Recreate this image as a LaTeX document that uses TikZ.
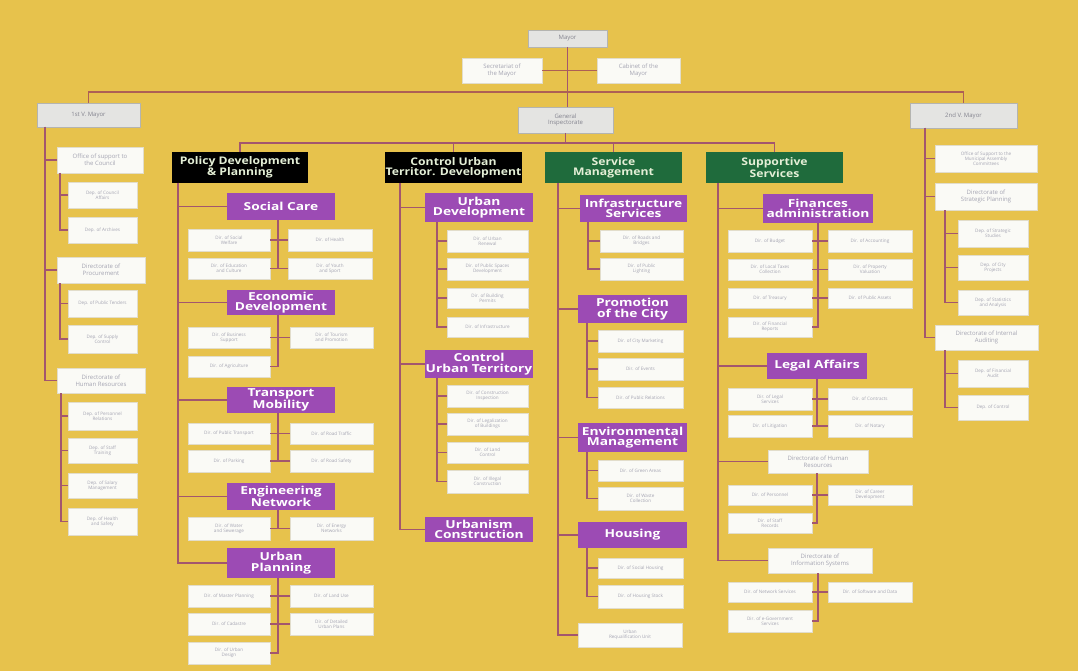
\documentclass[tikz,border=0pt]{standalone}
\usepackage{fontspec}
\setmainfont{Open Sans}
\setsansfont{Open Sans}
\newfontfamily\unitfont[FakeStretch=1.25]{Open Sans}
\newfontfamily\deptfont[FakeStretch=1.16]{Open Sans}
\begin{document}
\definecolor{bgc}{HTML}{E7C24C}
\definecolor{lnc}{HTML}{A3566E}
\definecolor{busc}{HTML}{AD5F55}
\definecolor{purp}{HTML}{9C4BB4}
\definecolor{grn}{HTML}{1F6B3C}
\definecolor{hdtxt}{HTML}{E4EFD6}
\definecolor{wfill}{HTML}{FAFAF6}
\definecolor{wline}{HTML}{E2DDCB}
\definecolor{gfill}{HTML}{E4E4E2}
\definecolor{gline}{HTML}{B4B4B0}
\definecolor{stxt}{HTML}{A4A4B2}
% box from its top-left corner (x1,y1) to its bottom-right corner (x2,y2)
\newcommand\bx[7]{%
  \pgfmathsetmacro\bxw{#5-#3}\pgfmathsetmacro\bxh{#6-#4}%
  \node[#1,minimum width=\bxw pt,minimum height=\bxh pt,anchor=north west] (#2) at (#3,#4) {#7};}
\begin{tikzpicture}[x=1pt,y=-1pt,
  every node/.style={inner sep=0pt,outer sep=0pt,align=center},
  ln/.style={draw=lnc,line width=1.8pt},
  pbox/.style={fill=purp,text=white,font=\unitfont\bfseries\fontsize{11}{10.5}\selectfont},
  kbox/.style={fill=black,text=hdtxt,font=\deptfont\bfseries\fontsize{10.5}{10}\selectfont},
  gbox/.style={fill=grn,text=hdtxt,font=\deptfont\bfseries\fontsize{10.5}{10}\selectfont},
  wbox/.style={fill=wfill,draw=wline,line width=0.6pt,text=stxt,font=\fontsize{4.6}{5.2}\selectfont},
  dbox/.style={fill=wfill,draw=wline,line width=0.6pt,text=stxt,font=\fontsize{6}{6.6}\selectfont},
  mbox/.style={fill=gfill,draw=gline,line width=0.8pt,text=stxt!80!black,font=\fontsize{6}{6.6}\selectfont}]
\useasboundingbox (0,0) rectangle (1078,671);
\fill[bgc] (0,0) rectangle (1078,671);

% ---- top management ----
\bx{mbox}{mayor}{528}{30}{607}{47}{Mayor}
\bx{dbox}{sec}{462}{58}{542}{83}{Secretariat of\\the Mayor}
\bx{dbox}{cab}{597}{58}{680}{83}{Cabinet of the\\Mayor}
\bx{mbox}{vma}{37}{103}{140}{127}{1st V. Mayor}
\bx{mbox}{vmb}{910}{103}{1017}{128}{2nd V. Mayor}
\bx{mbox}{gi}{518}{107}{613}{133}{General\\Inspectorate}
\coordinate (bus) at (567,92);
\coordinate (hbus) at (566,143);
\draw[ln,draw=busc] (sec.east) -- (cab.west);
\draw[ln] (mayor.south) -- (mayor.south |- gi.north);
\draw[ln,draw=busc] (vma.north) |- (bus) -| (vmb.north);
\draw[ln] (gi.south) -- (gi.south |- hbus);

% ---- four departments ----
\bx{kbox}{pol}{172}{152}{308}{183}{Policy Development\\\& Planning}
\bx{kbox}{ctl}{385}{152}{522}{183}{Control Urban\\Territor. Development}
\bx{gbox}{svc}{545}{152}{682}{183}{Service\\Management}
\bx{gbox}{sup}{706}{152}{843}{183}{Supportive\\Services}
\draw[ln] (pol.north) |- (hbus) -| (sup.north);
\draw[ln] (ctl.north) -- (ctl.north |- hbus);
\draw[ln] (svc.north) -- (svc.north |- hbus);

% ---- 1st vice mayor ----
\bx{dbox}{osc}{57}{147}{143}{173}{Office of support to\\the Council}
\bx{wbox}{osca}{68}{182}{137}{208}{Dep. of Council\\Affairs}
\bx{wbox}{oscb}{68}{217}{137}{243}{Dep. of Archives}
\bx{dbox}{dpr}{57}{257}{145}{283}{Directorate of\\Procurement}
\bx{wbox}{dpra}{68}{290}{137}{317}{Dep. of Public Tenders}
\bx{wbox}{dprb}{68}{325}{137}{353}{Dep. of Supply\\Control}
\bx{dbox}{dhr}{57}{368}{145}{393}{Directorate of\\Human Resources}
\bx{wbox}{dhra}{68}{402}{137}{430}{Dep. of Personnel\\Relations}
\bx{wbox}{dhrb}{68}{438}{137}{463}{Dep. of Staff\\Training}
\bx{wbox}{dhrc}{68}{473}{137}{498}{Dep. of Salary\\Management}
\bx{wbox}{dhrd}{68}{508}{137}{535}{Dep. of Health\\and Safety}
\foreach \c in {osc,dpr,dhr}{\draw[ln] ([xshift=8pt]vma.south west) |- (\c.west);}
\foreach \c in {osca,oscb}{\draw[ln] ([xshift=3pt]osc.south west) |- (\c.west);}
\foreach \c in {dpra,dprb}{\draw[ln] ([xshift=3pt]dpr.south west) |- (\c.west);}
\foreach \c in {dhra,dhrb,dhrc,dhrd}{\draw[ln] ([xshift=4pt]dhr.south west) |- (\c.west);}

% ---- 2nd vice mayor ----
\bx{wbox}{oma}{935}{145}{1037}{172}{Office of Support to the\\Municipal Assembly\\Committees}
\bx{dbox}{dsp}{935}{183}{1037}{210}{Directorate of\\Strategic Planning}
\bx{wbox}{dspa}{958}{220}{1028}{247}{Dep. of Strategic\\Studies}
\bx{wbox}{dspb}{958}{255}{1028}{280}{Dep. of City\\Projects}
\bx{wbox}{dspc}{958}{290}{1028}{315}{Dep. of Statistics\\and Analysis}
\bx{dbox}{dia}{935}{325}{1038}{350}{Directorate of Internal\\Auditing}
\bx{wbox}{diaa}{958}{360}{1028}{387}{Dep. of Financial\\Audit}
\bx{wbox}{diab}{958}{395}{1028}{420}{Dep. of Control}
\foreach \c in {oma,dsp,dia}{\draw[ln] ([xshift=15pt]vmb.south west) |- (\c.west);}
\foreach \c in {dspa,dspb,dspc}{\draw[ln] ([xshift=10pt]dsp.south west) |- (\c.west);}
\foreach \c in {diaa,diab}{\draw[ln] ([xshift=10pt]dia.south west) |- (\c.west);}

% ---- policy development & planning ----
\bx{pbox}{sc}{227}{193}{335}{220}{Social Care}
\bx{wbox}{sca}{188}{229}{270}{251}{Dir. of Social\\Welfare}
\bx{wbox}{scb}{288}{229}{372}{251}{Dir. of Health}
\bx{wbox}{scc}{188}{258}{270}{279}{Dir. of Education\\and Culture}
\bx{wbox}{scd}{288}{258}{372}{279}{Dir. of Youth\\and Sport}
\bx{pbox}{ed}{227}{290}{335}{315}{Economic\\Development}
\bx{wbox}{eda}{188}{327}{270}{348}{Dir. of Business\\Support}
\bx{wbox}{edb}{290}{327}{373}{348}{Dir. of Tourism\\and Promotion}
\bx{wbox}{edc}{188}{356}{270}{377}{Dir. of Agriculture}
\bx{pbox}{tm}{227}{387}{335}{413}{Transport\\Mobility}
\bx{wbox}{tma}{188}{423}{270}{444}{Dir. of Public Transport}
\bx{wbox}{tmb}{290}{423}{373}{444}{Dir. of Road Traffic}
\bx{wbox}{tmc}{188}{450}{270}{472}{Dir. of Parking}
\bx{wbox}{tmd}{290}{450}{373}{472}{Dir. of Road Safety}
\bx{pbox}{en}{227}{483}{335}{510}{Engineering\\Network}
\bx{wbox}{ena}{188}{517}{270}{540}{Dir. of Water\\and Sewerage}
\bx{wbox}{enb}{290}{517}{373}{540}{Dir. of Energy\\Networks}
\bx{pbox}{up}{227}{548}{335}{578}{Urban\\Planning}
\bx{wbox}{upa}{188}{585}{270}{607}{Dir. of Master Planning}
\bx{wbox}{upb}{290}{585}{373}{607}{Dir. of Land Use}
\bx{wbox}{upc}{188}{613}{270}{635}{Dir. of Cadastre}
\bx{wbox}{upd}{290}{613}{373}{635}{Dir. of Detailed\\Urban Plans}
\bx{wbox}{upe}{188}{642}{270}{664}{Dir. of Urban\\Design}
\foreach \c in {sc,ed,tm,en,up}{\draw[ln] ([xshift=6pt]pol.south west) |- (\c.west);}
\foreach \c in {sca,scc}{\draw[ln] ([xshift=-3pt]sc.south) |- (\c.east);}
\foreach \c in {scb,scd}{\draw[ln] ([xshift=-3pt]sc.south) |- (\c.west);}
\foreach \c in {eda,edc}{\draw[ln] ([xshift=-3pt]ed.south) |- (\c.east);}
\draw[ln] ([xshift=-3pt]ed.south) |- (edb.west);
\foreach \c in {tma,tmc}{\draw[ln] ([xshift=-3pt]tm.south) |- (\c.east);}
\foreach \c in {tmb,tmd}{\draw[ln] ([xshift=-3pt]tm.south) |- (\c.west);}
\draw[ln] ([xshift=-3pt]en.south) |- (ena.east);
\draw[ln] ([xshift=-3pt]en.south) |- (enb.west);
\foreach \c in {upa,upc,upe}{\draw[ln] ([xshift=-3pt]up.south) |- (\c.east);}
\foreach \c in {upb,upd}{\draw[ln] ([xshift=-3pt]up.south) |- (\c.west);}

% ---- control of urban territory ----
\bx{pbox}{ud}{425}{193}{533}{222}{Urban\\Development}
\bx{wbox}{uda}{447}{230}{528}{252}{Dir. of Urban\\Renewal}
\bx{wbox}{udb}{447}{258}{528}{280}{Dir. of Public Spaces\\Development}
\bx{wbox}{udc}{447}{288}{528}{308}{Dir. of Building\\Permits}
\bx{wbox}{udd}{447}{317}{528}{337}{Dir. of Infrastructure}
\bx{pbox}{ct}{425}{350}{533}{378}{Control\\Urban Territory}
\bx{wbox}{cta}{447}{385}{528}{407}{Dir. of Construction\\Inspection}
\bx{wbox}{ctb}{447}{413}{528}{435}{Dir. of Legalization\\of Buildings}
\bx{wbox}{ctc}{447}{442}{528}{463}{Dir. of Land\\Control}
\bx{wbox}{ctd}{447}{470}{528}{493}{Dir. of Illegal\\Construction}
\bx{pbox}{uc}{425}{517}{533}{542}{Urbanism\\Construction}
\foreach \c in {ud,ct,uc}{\draw[ln] ([xshift=15pt]ctl.south west) |- (\c.west);}
\foreach \c in {uda,udb,udc,udd}{\draw[ln] ([xshift=12pt]ud.south west) |- (\c.west);}
\foreach \c in {cta,ctb,ctc,ctd}{\draw[ln] ([xshift=12pt]ct.south west) |- (\c.west);}

% ---- service management ----
\bx{pbox}{is}{580}{195}{687}{222}{Infrastructure\\Services}
\bx{wbox}{isa}{600}{230}{683}{252}{Dir. of Roads and\\Bridges}
\bx{wbox}{isb}{600}{258}{683}{280}{Dir. of Public\\Lighting}
\bx{pbox}{pc}{578}{295}{687}{323}{Promotion\\of the City}
\bx{wbox}{pca}{598}{330}{683}{352}{Dir. of City Marketing}
\bx{wbox}{pcb}{598}{358}{683}{380}{Dir. of Events}
\bx{wbox}{pcc}{598}{387}{683}{408}{Dir. of Public Relations}
\bx{pbox}{em}{578}{423}{687}{452}{Environmental\\Management}
\bx{wbox}{ema}{598}{460}{683}{481}{Dir. of Green Areas}
\bx{wbox}{emb}{598}{487}{683}{510}{Dir. of Waste\\Collection}
\bx{pbox}{ho}{578}{522}{687}{548}{Housing}
\bx{wbox}{hoa}{598}{558}{683}{578}{Dir. of Social Housing}
\bx{wbox}{hob}{598}{585}{683}{608}{Dir. of Housing Stock}
\bx{wbox}{urq}{578}{623}{682}{647}{Urban\\Requalification Unit}
\foreach \c in {is,pc,em,ho,urq}{\draw[ln] ([xshift=13pt]svc.south west) |- (\c.west);}
\foreach \c in {isa,isb}{\draw[ln] ([xshift=8pt]is.south west) |- (\c.west);}
\foreach \c in {pca,pcb,pcc}{\draw[ln] ([xshift=9pt]pc.south west) |- (\c.west);}
\foreach \c in {ema,emb}{\draw[ln] ([xshift=9pt]em.south west) |- (\c.west);}
\foreach \c in {hoa,hob}{\draw[ln] ([xshift=9pt]ho.south west) |- (\c.west);}

% ---- supportive services ----
\bx{pbox}{fa}{763}{194}{873}{223}{Finances\\administration}
\bx{wbox}{faa}{728}{230}{812}{252}{Dir. of Budget}
\bx{wbox}{fab}{828}{230}{912}{252}{Dir. of Accounting}
\bx{wbox}{fac}{728}{259}{812}{280}{Dir. of Local Taxes\\Collection}
\bx{wbox}{fad}{828}{259}{912}{280}{Dir. of Property\\Valuation}
\bx{wbox}{fae}{728}{288}{812}{308}{Dir. of Treasury}
\bx{wbox}{faf}{828}{288}{912}{308}{Dir. of Public Assets}
\bx{wbox}{fag}{728}{317}{812}{337}{Dir. of Financial\\Reports}
\bx{pbox}{la}{767}{353}{867}{379}{Legal Affairs}
\bx{wbox}{laa}{728}{388}{812}{410}{Dir. of Legal\\Services}
\bx{wbox}{lab}{828}{388}{912}{410}{Dir. of Contracts}
\bx{wbox}{lac}{728}{415}{812}{437}{Dir. of Litigation}
\bx{wbox}{lad}{828}{415}{912}{437}{Dir. of Notary}
\bx{dbox}{hr}{768}{450}{868}{473}{Directorate of Human\\Resources}
\bx{wbox}{hra}{728}{485}{812}{505}{Dir. of Personnel}
\bx{wbox}{hrb}{828}{485}{912}{505}{Dir. of Career\\Development}
\bx{wbox}{hrc}{728}{513}{812}{533}{Dir. of Staff\\Records}
\bx{dbox}{ist}{768}{548}{872}{573}{Directorate of\\Information Systems}
\bx{wbox}{ista}{728}{582}{812}{602}{Dir. of Network Services}
\bx{wbox}{istb}{828}{582}{912}{602}{Dir. of Software and Data}
\bx{wbox}{istc}{728}{610}{812}{632}{Dir. of e-Government\\Services}
\foreach \c in {fa,la,hr,ist}{\draw[ln] ([xshift=12pt]sup.south west) |- (\c.west);}
\foreach \c in {faa,fac,fae,fag}{\draw[ln] (fa.south) |- (\c.east);}
\foreach \c in {fab,fad,faf}{\draw[ln] (fa.south) |- (\c.west);}
\foreach \c in {laa,lac}{\draw[ln] (la.south) |- (\c.east);}
\foreach \c in {lab,lad}{\draw[ln] (la.south) |- (\c.west);}
\foreach \c in {hra,hrc}{\draw[ln] ([xshift=-1pt]hr.south) |- (\c.east);}
\draw[ln] ([xshift=-1pt]hr.south) |- (hrb.west);
\foreach \c in {ista,istc}{\draw[ln] ([xshift=-2pt]ist.south) |- (\c.east);}
\draw[ln] ([xshift=-2pt]ist.south) |- (istb.west);
\end{tikzpicture}
\end{document}
